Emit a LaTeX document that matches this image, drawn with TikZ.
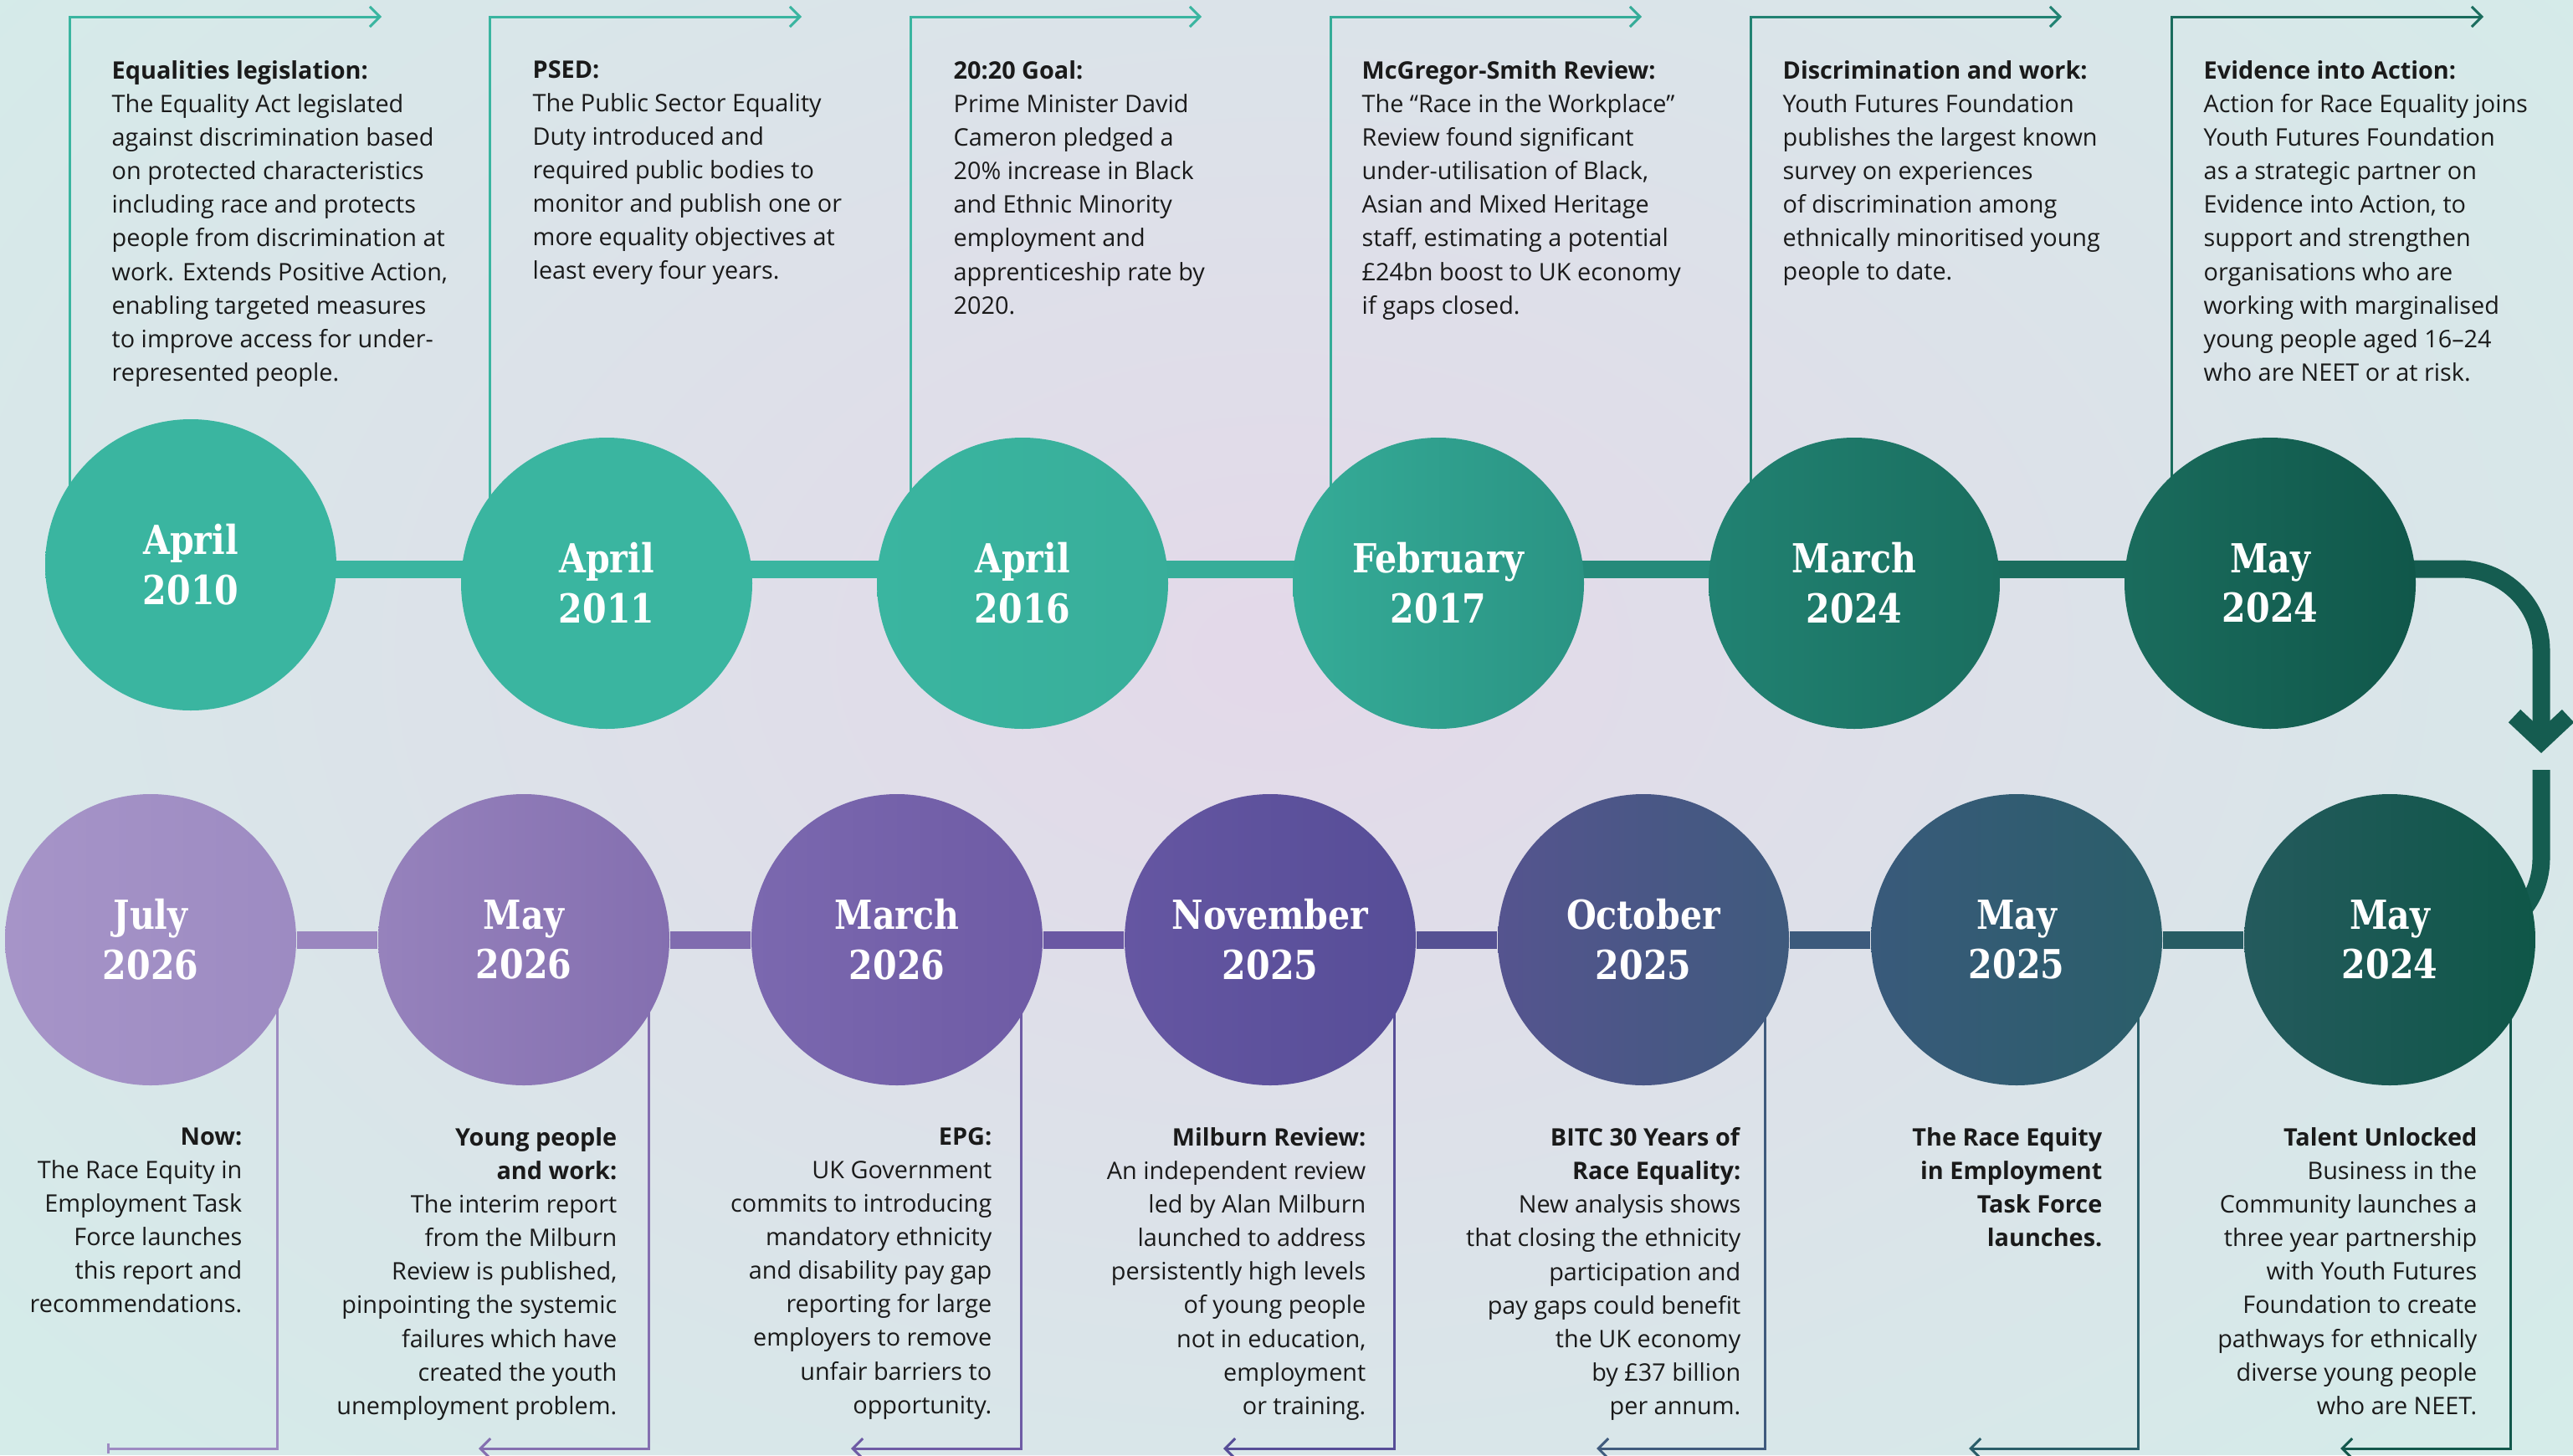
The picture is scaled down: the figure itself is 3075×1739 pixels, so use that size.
\documentclass[tikz,border=0pt]{standalone}
\usepackage{fontspec}
\setmainfont{Open Sans}
\newfontfamily\slabfont[FakeStretch=0.86]{DejaVu Serif}
\usetikzlibrary{arrows.meta,backgrounds,fadings}

\definecolor{ink}{RGB}{26,26,26}
\definecolor{mint}{RGB}{213,236,233}
\definecolor{lilac}{RGB}{228,217,234}
\definecolor{pine}{RGB}{21,92,80}
% circle fills: a = left edge, b = right edge
\definecolor{t1a}{RGB}{58,181,160}
\definecolor{t3b}{RGB}{56,174,154}
\definecolor{t4a}{RGB}{53,172,152}
\definecolor{t4b}{RGB}{42,147,131}
\definecolor{t5a}{RGB}{33,130,114}
\definecolor{t5b}{RGB}{26,110,95}
\definecolor{t6a}{RGB}{26,108,93}
\definecolor{t6b}{RGB}{16,87,74}
\definecolor{b7a}{RGB}{36,90,93}
\definecolor{b7b}{RGB}{15,87,72}
\definecolor{b6a}{RGB}{57,90,123}
\definecolor{b6b}{RGB}{42,94,105}
\definecolor{b5a}{RGB}{85,84,143}
\definecolor{b5b}{RGB}{63,90,125}
\definecolor{b4a}{RGB}{101,86,162}
\definecolor{b4b}{RGB}{86,77,151}
\definecolor{b3a}{RGB}{123,104,175}
\definecolor{b3b}{RGB}{110,91,165}
\definecolor{b2a}{RGB}{150,130,188}
\definecolor{b2b}{RGB}{132,111,176}
\definecolor{b1a}{RGB}{166,148,200}
\definecolor{b1b}{RGB}{157,139,194}

\tikzfading[name=glow,inner color=transparent!0,outer color=transparent!100]

\tikzset{
  date/.style={circle,inner sep=0pt,minimum size=34.8mm,text=white,align=center,
    font=\slabfont\bfseries\fontsize{13.6}{17}\selectfont},
  note/.style={inner sep=0pt,text=ink,font=\fontsize{8.2}{11.4}\selectfont},
  upnote/.style={note,anchor=north west,align=left},
  downnote/.style={note,anchor=north east,align=right},
  tick/.style={line width=0.3mm,-{Straight Barb[length=1.2mm,width=2.4mm]}},
  stop/.style={line width=0.3mm,-{Bar[width=1.2mm]}},
  spine/.style={line width=2.1mm},
  loopback/.style={line width=2.1mm,pine,rounded corners=9.7mm},
}

\begin{document}
\begin{tikzpicture}[x=0.1mm,y=-0.1mm]
\useasboundingbox (0,0) rectangle (3075,1739);

% top row, left to right
\node[date,left color=t1a,right color=t1a] (t1) at (228,675) {April\\2010};
\node[date,left color=t1a,right color=t1a] (t2) at (725,697) {April\\2011};
\node[date,left color=t1a,right color=t3b] (t3) at (1222,697) {April\\2016};
\node[date,left color=t4a,right color=t4b] (t4) at (1719,697) {February\\2017};
\node[date,left color=t5a,right color=t5b] (t5) at (2216,697) {March\\2024};
\node[date,left color=t6a,right color=t6b] (t6) at (2713,697) {May\\2024};

% bottom row, read right to left
\node[date,left color=b7a,right color=b7b] (b7) at (2856,1123) {May\\2024};
\node[date,left color=b6a,right color=b6b] (b6) at (2410,1123) {May\\2025};
\node[date,left color=b5a,right color=b5b] (b5) at (1964,1123) {October\\2025};
\node[date,left color=b4a,right color=b4b] (b4) at (1518,1123) {November\\2025};
\node[date,left color=b3a,right color=b3b] (b3) at (1072,1123) {March\\2026};
\node[date,left color=b2a,right color=b2b] (b2) at (626,1123) {May\\2026};
\node[date,left color=b1a,right color=b1b] (b1) at (180,1123) {July\\2026};

% texts above
\node[upnote] (n1) at (133,72) {\textbf{Equalities legislation:}\\
  The Equality Act legislated\\against discrimination based\\
  on protected characteristics\\including race and protects\\
  people from discrimination at\\work. Extends Positive Action,\\
  enabling targeted measures\\to improve access for under-\\
  represented people.};
\node[upnote] (n2) at (636,72) {\textbf{PSED:}\\
  The Public Sector Equality\\Duty introduced and\\
  required public bodies to\\monitor and publish one or\\
  more equality objectives at\\least every four years.};
\node[upnote] (n3) at (1139,72) {\textbf{20:20 Goal:}\\
  Prime Minister David\\Cameron pledged a\\20\% increase in Black\\
  and Ethnic Minority\\employment and\\apprenticeship rate by\\2020.};
\node[upnote] (n4) at (1627,72) {\textbf{McGregor-Smith Review:}\\
  The “Race in the Workplace”\\Review found significant\\
  under-utilisation of Black,\\Asian and Mixed Heritage\\
  staff, estimating a potential\\£24bn boost to UK economy\\if gaps closed.};
\node[upnote] (n5) at (2130,72) {\textbf{Discrimination and work:}\\
  Youth Futures Foundation\\publishes the largest known\\
  survey on experiences\\of discrimination among\\
  ethnically minoritised young\\people to date.};
\node[upnote] (n6) at (2633,72) {\textbf{Evidence into Action:}\\
  Action for Race Equality joins\\Youth Futures Foundation\\
  as a strategic partner on\\Evidence into Action, to\\
  support and strengthen\\organisations who are\\
  working with marginalised\\young people aged 16--24\\
  who are NEET or at risk.};

% texts below
\node[downnote] (m1) at (290,1347) {\textbf{Now:}\\
  The Race Equity in\\Employment Task\\Force launches\\
  this report and\\recommendations.};
\node[downnote] (m2) at (738,1347) {\textbf{Young people}\\\textbf{and work:}\\
  The interim report\\from the Milburn\\Review is published,\\
  pinpointing the systemic\\failures which have\\
  created the youth\\unemployment problem.};
\node[downnote] (m3) at (1186,1347) {\textbf{EPG:}\\
  UK Government\\commits to introducing\\mandatory ethnicity\\
  and disability pay gap\\reporting for large\\
  employers to remove\\unfair barriers to\\opportunity.};
\node[downnote] (m4) at (1633,1347) {\textbf{Milburn Review:}\\
  An independent review\\led by Alan Milburn\\launched to address\\
  persistently high levels\\of young people\\
  not in education,\\employment\\or training.};
\node[downnote] (m5) at (2081,1347) {\textbf{BITC 30 Years of}\\\textbf{Race Equality:}\\
  New analysis shows\\that closing the ethnicity\\participation and\\
  pay gaps could benefit\\the UK economy\\by £37 billion\\per annum.};
\node[downnote] (m6) at (2513,1347) {\textbf{The Race Equity}\\
  \textbf{in Employment}\\\textbf{Task Force}\\\textbf{launches.}};
\node[downnote] (m7) at (2961,1347) {\textbf{Talent Unlocked}\\
  Business in the\\Community launches a\\three year partnership\\
  with Youth Futures\\Foundation to create\\
  pathways for ethnically\\diverse young people\\who are NEET.};

\begin{scope}[on background layer]
  % soft wash behind everything
  \fill[mint] (0,0) rectangle (3075,1739);
  \fill[lilac,path fading=glow] (1530,780) ellipse (2000 and 1350);

  % the two timelines
  \coordinate (axis) at (0,680);
  \draw[spine,t1a] (t1 |- axis) -- (t2 |- axis);
  \draw[spine,t1a] (t2 |- axis) -- (t3 |- axis);
  \draw[spine,t3b!50!t4a] (t3 |- axis) -- (t4 |- axis);
  \draw[spine,t4b!50!t5a] (t4 |- axis) -- (t5 |- axis);
  \draw[spine,t5b!50!t6a] (t5 |- axis) -- (t6 |- axis);
  \draw[spine,b7a!50!b6b] (b7) -- (b6);
  \draw[spine,b6a!50!b5b] (b6) -- (b5);
  \draw[spine,b5a!50!b4b] (b5) -- (b4);
  \draw[spine,b4a!50!b3b] (b4) -- (b3);
  \draw[spine,b3a!50!b2b] (b3) -- (b2);
  \draw[spine,b2a!50!b1b] (b2) -- (b1);

  % turn from the top row down to the bottom row
  \coordinate (bend) at (3037,900);
  \coordinate (resume) at (3037,920);
  \draw[loopback,-{Straight Barb[sharp,length=3mm,width=6.4mm]}] (t6 |- axis) -| (bend);
  \draw[loopback] (resume) |- (b7.center);

  % leaders to the texts above
  \coordinate (a1) at (456,20);
  \coordinate (a2) at (958,20);
  \coordinate (a3) at (1436,20);
  \coordinate (a4) at (1962,20);
  \coordinate (a5) at (2464,20);
  \coordinate (a6) at (2968,20);
  \draw[tick,t1a] ([xshift=-14.5mm]t1.center) |- (a1);
  \draw[tick,t1a] ([xshift=-14mm]t2.center) |- (a2);
  \draw[tick,t1a] ([xshift=-13.4mm]t3.center) |- (a3);
  \draw[tick,t4a] ([xshift=-12.9mm]t4.center) |- (a4);
  \draw[tick,t5a] ([xshift=-12.4mm]t5.center) |- (a5);
  \draw[tick,t6a] ([xshift=-11.8mm]t6.center) |- (a6);

  % leaders to the texts below
  \coordinate (z1) at (128,1731);
  \coordinate (z2) at (572,1731);
  \coordinate (z3) at (1017,1731);
  \coordinate (z4) at (1462,1731);
  \coordinate (z5) at (1908,1731);
  \coordinate (z6) at (2353,1731);
  \coordinate (z7) at (2797,1731);
  \draw[stop,b1b] ([xshift=15.1mm]b1.center) |- (z1);
  \draw[tick,b2b] ([xshift=14.9mm]b2.center) |- (z2);
  \draw[tick,b3b] ([xshift=14.8mm]b3.center) |- (z3);
  \draw[tick,b4b] ([xshift=14.8mm]b4.center) |- (z4);
  \draw[tick,b5b] ([xshift=14.5mm]b5.center) |- (z5);
  \draw[tick,b6b] ([xshift=14.5mm]b6.center) |- (z6);
  \draw[tick,b7b!80!b7a] ([xshift=14.4mm]b7.center) |- (z7);
\end{scope}
\end{tikzpicture}
\end{document}
